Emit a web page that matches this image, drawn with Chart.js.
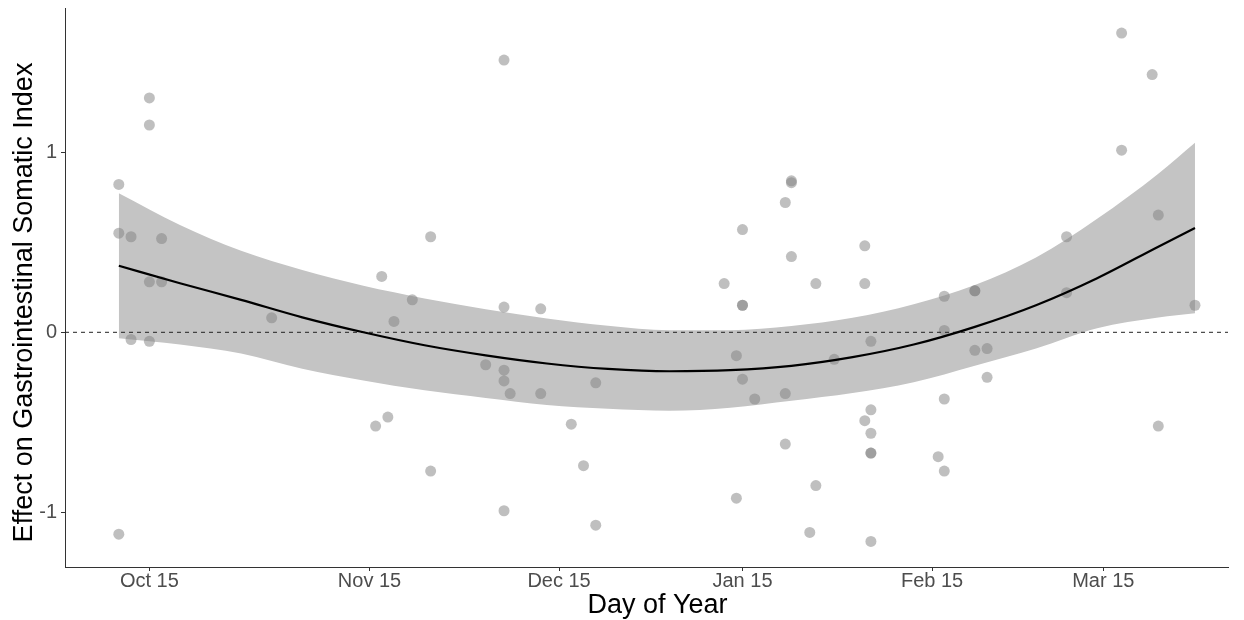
<!DOCTYPE html>
<html>
<head>
<meta charset="utf-8">
<title>Effect on Gastrointestinal Somatic Index</title>
<script src="https://cdn.jsdelivr.net/npm/chart.js@4.4.1/dist/chart.umd.min.js"></script>
<style>
  html, body { margin: 0; padding: 0; background: #fff; }
  #wrap { width: 1244px; height: 620px; }
</style>
</head>
<body>
<div id="wrap"><canvas id="gsiChart" width="1244" height="620"></canvas></div>
<script>
// ---------------------------------------------
// Observed points (day index, effect)
// ---------------------------------------------
const pointDay = [0, 0, 0, 2, 2, 5, 5, 5, 5, 7, 7, 25, 42, 43, 44, 45, 48, 51, 51, 60,
  63, 63, 63, 63, 63, 64, 69, 69, 74, 76, 78, 78, 99, 101, 101, 102, 102, 102, 102, 104,
  109, 109, 109, 110, 110, 110, 113, 114, 114, 117, 122, 122, 122, 123, 123, 123, 123, 123, 123,
  134, 135, 135, 135, 135, 140, 140, 140, 142, 142, 155, 155, 164, 164, 169, 170, 170, 176];
const pointEffect = [0.82, 0.55, -1.12, 0.53, -0.04, 1.30, 1.15, 0.28, -0.05, 0.52, 0.28, 0.08,
  -0.52, 0.31, -0.47, 0.06, 0.18, 0.53, -0.77, -0.18,
  1.51, 0.14, -0.21, -0.27, -0.99, -0.34, 0.13, -0.34, -0.51, -0.74, -0.28, -1.07, 0.27, -0.13, -0.92,
  0.57, 0.15, 0.15, -0.26, -0.37,
  0.72, -0.34, -0.62, 0.84, 0.83, 0.42, -1.11, 0.27, -0.85, -0.15, 0.48, 0.27, -0.49,
  -0.05, -0.43, -0.56, -0.67, -0.67, -1.16,
  -0.69, 0.20, 0.01, -0.37, -0.77, 0.23, 0.23, -0.10, -0.09, -0.25, 0.53, 0.22, 1.66, 1.01, 1.43, 0.65, -0.52, 0.15];

// ---------------------------------------------
// Smooth fit with confidence band
// ---------------------------------------------
const fitDay = [0, 10, 20, 30, 40, 50, 60, 70, 80, 90, 100, 110, 120, 130, 140, 150, 160, 170, 176];
const fitMean = [0.369, 0.272, 0.180, 0.083, 0.000, -0.072, -0.128, -0.173, -0.203, -0.216,
  -0.210, -0.186, -0.138, -0.068, 0.030, 0.150, 0.300, 0.475, 0.578];
const fitUpper = [0.771, 0.595, 0.452, 0.345, 0.258, 0.188, 0.128, 0.077, 0.036, 0.012,
  0.012, 0.035, 0.080, 0.155, 0.262, 0.415, 0.630, 0.880, 1.052];
const fitLower = [-0.033, -0.068, -0.118, -0.202, -0.267, -0.322, -0.364, -0.403, -0.424, -0.435,
  -0.418, -0.380, -0.337, -0.277, -0.185, -0.090, 0.022, 0.082, 0.105];

// ---------------------------------------------
// Axes
// ---------------------------------------------
const tickDays = [5, 41, 72, 102, 133, 161];
const tickLabels = ['Oct 15', 'Nov 15', 'Dec 15', 'Jan 15', 'Feb 15', 'Mar 15'];
const axisDay = [-8.8, 181.4];
const axisEffect = [-1.302, 1.799];
const effectTicks = [-1, 0, 1];
const xTitle = 'Day of Year';
const yTitle = 'Effect on Gastrointestinal Somatic Index';

const toXY = (xs, ys) => xs.map((x, i) => ({ x: x, y: ys[i] }));
const fontFamily = "'Liberation Sans', Arial, sans-serif";

// axis titles, drawn a little off the panel centre like the original figure
const axisTitles = {
  id: 'axisTitles',
  afterDraw(chart) {
    const { ctx, chartArea } = chart;
    ctx.save();
    ctx.fillStyle = '#000';
    ctx.font = '27px ' + fontFamily;
    ctx.textAlign = 'center';
    ctx.textBaseline = 'middle';
    ctx.fillText(xTitle, (chartArea.left + chartArea.right) / 2 + 11, 606);
    ctx.translate(25, (chartArea.top + chartArea.bottom) / 2 + 15);
    ctx.rotate(-Math.PI / 2);
    ctx.fillText(yTitle, 0, 0);
    ctx.restore();
  }
};

const ctx = document.getElementById('gsiChart').getContext('2d');
new Chart(ctx, {
  type: 'line',
  data: {
    datasets: [
      {
        label: 'Fit',
        data: toXY(fitDay, fitMean),
        borderColor: '#000',
        borderWidth: 2.2,
        pointRadius: 0,
        fill: false,
        cubicInterpolationMode: 'monotone',
        order: 0
      },
      {
        label: 'Zero',
        data: toXY(axisDay, [0, 0]),
        borderColor: '#222',
        borderWidth: 1,
        borderDash: [4, 4],
        pointRadius: 0,
        fill: false,
        order: 1
      },
      {
        label: 'Observed',
        data: toXY(pointDay, pointEffect),
        showLine: false,
        pointRadius: 5.5,
        pointBackgroundColor: 'rgba(128,128,128,0.5)',
        pointBorderColor: 'rgba(0,0,0,0)',
        pointBorderWidth: 0,
        order: 2
      },
      {
        label: 'Upper',
        data: toXY(fitDay, fitUpper),
        borderColor: 'rgba(0,0,0,0)',
        backgroundColor: '#c4c4c4',
        pointRadius: 0,
        fill: '+1',
        cubicInterpolationMode: 'monotone',
        order: 3
      },
      {
        label: 'Lower',
        data: toXY(fitDay, fitLower),
        borderColor: 'rgba(0,0,0,0)',
        pointRadius: 0,
        fill: false,
        cubicInterpolationMode: 'monotone',
        order: 4
      }
    ]
  },
  options: {
    responsive: false,
    animation: false,
    devicePixelRatio: 1,
    layout: { padding: { top: 8, right: 16, bottom: 0, left: 0 } },
    plugins: {
      legend: { display: false },
      tooltip: { enabled: false }
    },
    scales: {
      x: {
        type: 'linear',
        min: axisDay[0],
        max: axisDay[1],
        afterFit: s => { s.height = 53; s.paddingLeft = 0; s.paddingRight = 0; },
        afterBuildTicks: s => { s.ticks = tickDays.map(v => ({ value: v })); },
        ticks: {
          autoSkip: false,
          maxRotation: 0,
          padding: -2,
          color: '#4d4d4d',
          font: { family: fontFamily, size: 20 },
          callback: (v, i) => tickLabels[i]
        },
        grid: { display: true, drawOnChartArea: false, drawTicks: true, tickLength: 4, color: '#333' },
        border: { display: true, color: '#333', width: 1 }
      },
      y: {
        type: 'linear',
        min: axisEffect[0],
        max: axisEffect[1],
        afterFit: s => { s.width = 65; s.paddingTop = 0; s.paddingBottom = 0; },
        afterBuildTicks: s => { s.ticks = effectTicks.map(v => ({ value: v })); },
        ticks: {
          padding: 4,
          color: '#4d4d4d',
          font: { family: fontFamily, size: 20 },
          callback: v => String(v)
        },
        grid: { display: true, drawOnChartArea: false, drawTicks: true, tickLength: 4, color: '#333' },
        border: { display: true, color: '#333', width: 1 }
      }
    }
  },
  plugins: [axisTitles]
});
</script>
</body>
</html>
